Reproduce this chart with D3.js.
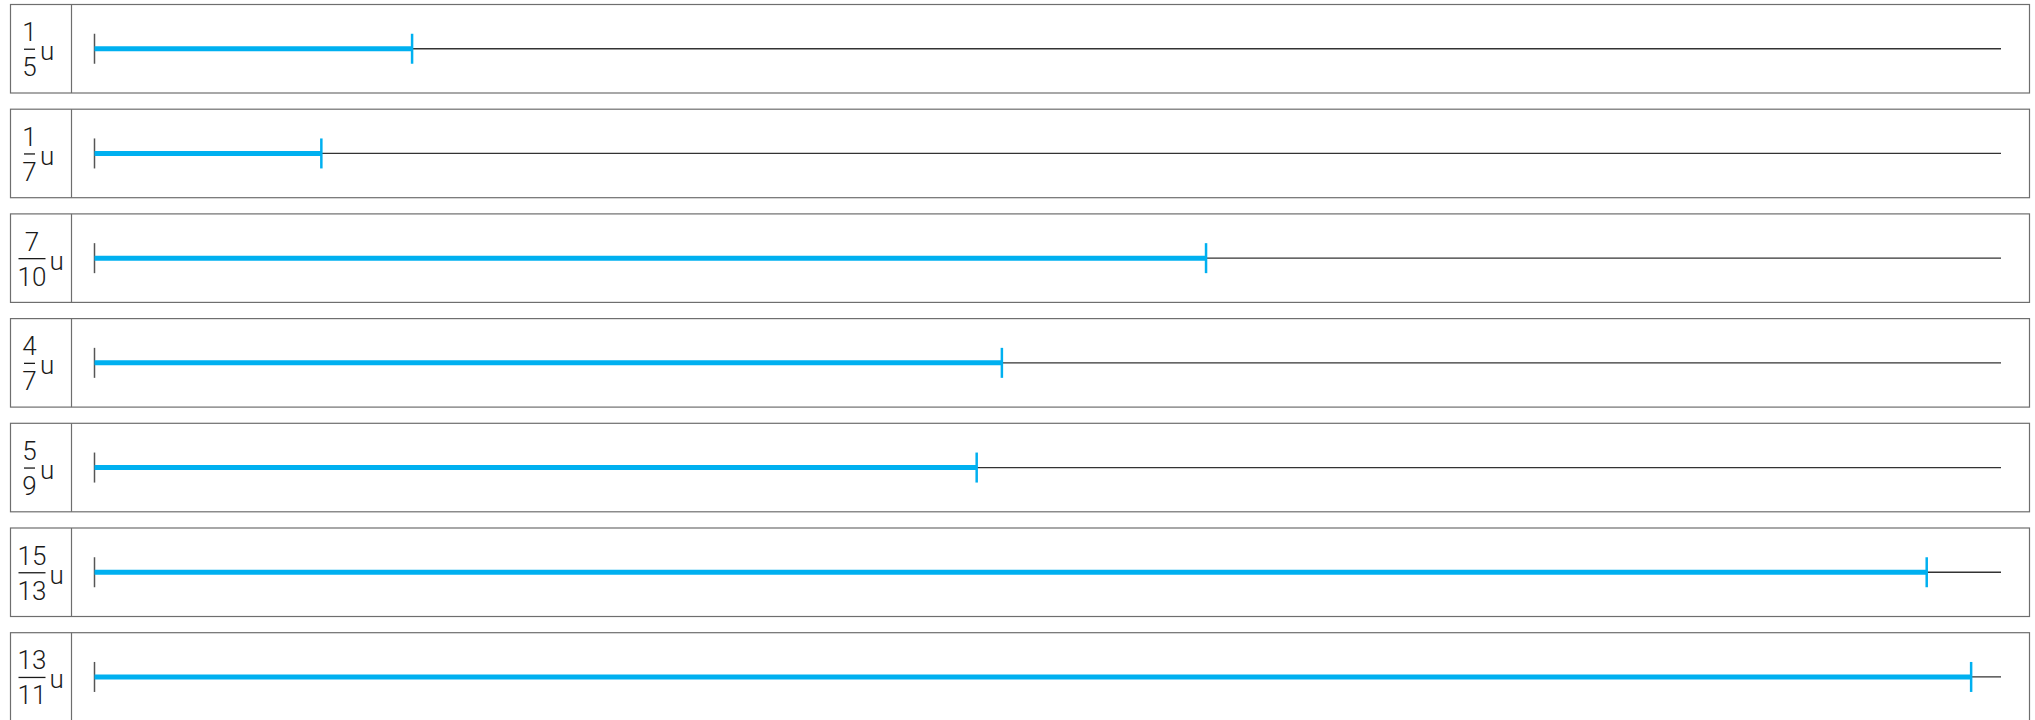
<!DOCTYPE html>
<html>
<head>
	<title>Fraction Bars</title>
	<script src="https://d3js.org/d3.v7.min.js"></script>
	<style type="text/css">
		*
		{
			margin:0;
			padding:0;
		}
		body
		{
			background:#fff;
			font-family: "Roboto";
		}
		.frac
		{
			font-size:26px;
			font-weight:300;
			fill:#1a1a1a;
		}
	</style>
</head>
<body>
	<div id="chart"></div>
	<script>
		const numerators = [1, 1, 7, 4, 5, 15, 13];
		const denominators = [5, 7, 10, 7, 9, 13, 11];
		const unitLabel = "u";
		const axisMax = 1.2;

		const width = 2035;
		const height = 720;
		const rowTop = 4.5;
		const rowStep = 104.7;
		const rowHeight = 88.5;
		const boxLeft = 10.5;
		const boxRight = 2029.5;
		const labelRight = 71.5;

		const svg = d3.select("#chart").append("svg")
			.attr("width", width)
			.attr("height", height);

		const xScale = d3.scaleLinear().domain([0, axisMax]).range([94.5, 2000]);

		const rows = svg.selectAll("g.row")
			.data(numerators.map((n, i) => ({n: n, d: denominators[i]})))
			.enter()
			.append("g")
			.attr("class", "row")
			.attr("transform", (d, i) => "translate(0," + (rowTop + i * rowStep) + ")");

		// box + label divider
		rows.append("rect")
			.attr("x", boxLeft)
			.attr("y", 0)
			.attr("width", boxRight - boxLeft)
			.attr("height", rowHeight)
			.attr("fill", "none")
			.attr("stroke", "#6e6e6e")
			.attr("stroke-width", 1.2);

		rows.append("line")
			.attr("x1", labelRight).attr("x2", labelRight)
			.attr("y1", 0).attr("y2", rowHeight)
			.attr("stroke", "#6e6e6e")
			.attr("stroke-width", 1.2);

		const cy = rowHeight / 2;
		const wide = d => d.n >= 10 || d.d >= 10;

		// fraction label
		const fx = d => wide(d) ? 32 : 29.5;
		rows.append("text")
			.attr("class", "frac")
			.attr("x", fx)
			.attr("y", cy - 7.5)
			.attr("text-anchor", "middle")
			.text(d => d.n);

		rows.append("line")
			.attr("x1", d => wide(d) ? 18.5 : 24)
			.attr("x2", d => wide(d) ? 45.5 : 35)
			.attr("y1", cy + 0.5).attr("y2", cy + 0.5)
			.attr("stroke", "#1a1a1a")
			.attr("stroke-width", 1.3);

		rows.append("text")
			.attr("class", "frac")
			.attr("x", fx)
			.attr("y", cy + 27.5)
			.attr("text-anchor", "middle")
			.text(d => d.d);

		rows.append("text")
			.attr("class", "frac")
			.attr("x", d => wide(d) ? 49.5 : 40)
			.attr("y", cy + 11.5)
			.text(unitLabel);

		// number line
		rows.append("line")
			.attr("x1", xScale(0)).attr("x2", 2001)
			.attr("y1", cy).attr("y2", cy)
			.attr("stroke", "#333")
			.attr("stroke-width", 1.3);

		rows.append("line")
			.attr("x1", xScale(0)).attr("x2", xScale(0))
			.attr("y1", cy - 15).attr("y2", cy + 15)
			.attr("stroke", "#555")
			.attr("stroke-width", 1.5);

		// fraction bar
		rows.append("line")
			.attr("x1", xScale(0))
			.attr("x2", d => xScale(d.n / d.d))
			.attr("y1", cy).attr("y2", cy)
			.attr("stroke", "#00b0f0")
			.attr("stroke-width", 5);

		rows.append("line")
			.attr("x1", d => xScale(d.n / d.d))
			.attr("x2", d => xScale(d.n / d.d))
			.attr("y1", cy - 15).attr("y2", cy + 15)
			.attr("stroke", "#00b0f0")
			.attr("stroke-width", 2.5);
	</script>
</body>
</html>
